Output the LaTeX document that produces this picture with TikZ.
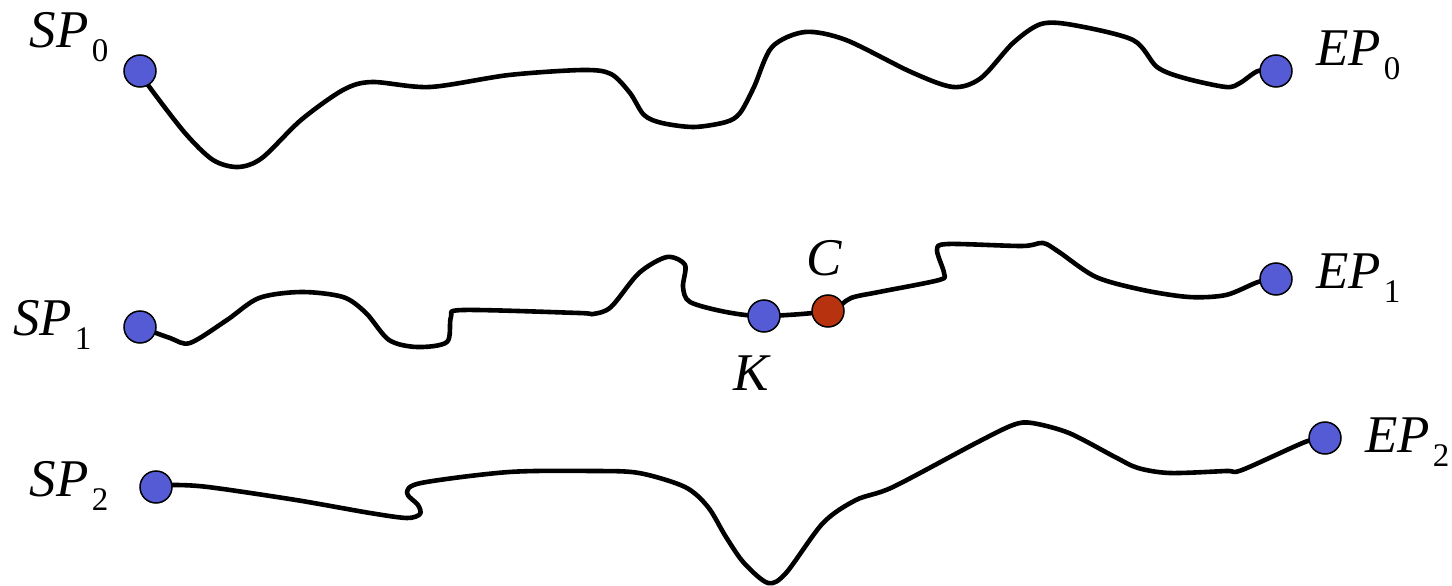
\documentclass[tikz,border=0pt]{standalone}
\usepackage{fontspec}
\setmainfont{Liberation Serif}
\usetikzlibrary{backgrounds}
\definecolor{ptblue}{RGB}{85,91,213}
\definecolor{ptred}{RGB}{183,51,15}
\newcommand\mylab[2]{{\fontsize{53}{53}\selectfont\itshape #1}\kern3pt\raisebox{-14pt}{\fontsize{33}{33}\selectfont\upshape #2}}
\tikzset{
  pt/.style={circle, draw=black, line width=1.5pt, fill=ptblue, minimum size=32pt, inner sep=0pt},
  redpt/.style={pt, fill=ptred},
  lbl/.style={anchor=base west, inner sep=0pt, outer sep=0pt},
  path/.style={line width=4.6pt, line join=round, line cap=round},
}
\begin{document}
\begin{tikzpicture}[x=1pt, y=-1pt]
\useasboundingbox (0,0) rectangle (1452,586);
% points
\node[pt] (SP0) at (140,71) {};
\node[pt] (EP0) at (1276,71) {};
\node[pt] (SP1) at (140,327) {};
\node[pt] (K) at (764,316) {};
\node[redpt] (C) at (828,311) {};
\node[pt] (EP1) at (1276,279) {};
\node[pt] (SP2) at (156,487) {};
\node[pt] (EP2) at (1325,438) {};
% labels
\node[lbl] (lSP0) at (30,48) {\mylab{SP}{0}};
\node[lbl] (lEP0) at (1316,66) {\mylab{EP}{0}};
\node[lbl] (lSP1) at (13,335) {\mylab{SP}{1}};
\node[lbl] (lEP1) at (1316,288) {\mylab{EP}{1}};
\node[lbl] (lSP2) at (30,496) {\mylab{SP}{2}};
\node[lbl] (lEP2) at (1365,452) {\mylab{EP}{2}};
\node[lbl] (lC) at (806,275) {\fontsize{53}{53}\selectfont\itshape C};
\node[lbl] (lK) at (733,390) {\fontsize{53}{53}\selectfont\itshape K};
\begin{scope}[on background layer]
\draw[path] plot[smooth, tension=0.5] coordinates {(SP0.center) (148,85) (185,133) (213,160) (238,167) (262,158) (301,120) (343,90) (372,82) (430,87) (509,75) (583,70) (611,74) (630,93) (644,115) (662,123) (694,127) (726,122) (740,113) (754,87) (772,47) (805,32) (846,40) (911,72) (953,87) (981,78) (1013,43) (1041,24) (1073,25) (1133,40) (1157,67) (1184,78) (1226,87) (1240,83) (1258,71) (EP0.center)};
\draw[path] plot[smooth, tension=0.5] coordinates {(SP1.center) (170,338) (190,343) (227,320) (259,298) (301,292) (343,297) (366,313) (389,340) (417,347) (447,342) (451,317) (463,310) (579,313) (593,314) (611,307) (639,273) (667,257) (685,265) (683,287) (690,302) (726,312) (K.center) (C.center) (851,298) (879,292) (939,280) (944,273) (937,250) (948,244) (1022,246) (1043,243) (1059,252) (1096,277) (1143,290) (1189,297) (1226,295) (1258,282) (EP1.center)};
\draw[path] plot[smooth, tension=0.5] coordinates {(SP2.center) (171,485) (208,487) (296,500) (370,513) (407,518) (420,514) (418,505) (407,493) (421,483) (509,472) (593,471) (639,473) (685,487) (708,507) (726,537) (744,563) (768,583) (786,573) (823,523) (856,500) (893,487) (976,443) (1013,425) (1032,423) (1069,433) (1115,457) (1138,468) (1170,473) (1226,471) (1242,470) (1305,442) (EP2.center)};
\end{scope}
\end{tikzpicture}
\end{document}
